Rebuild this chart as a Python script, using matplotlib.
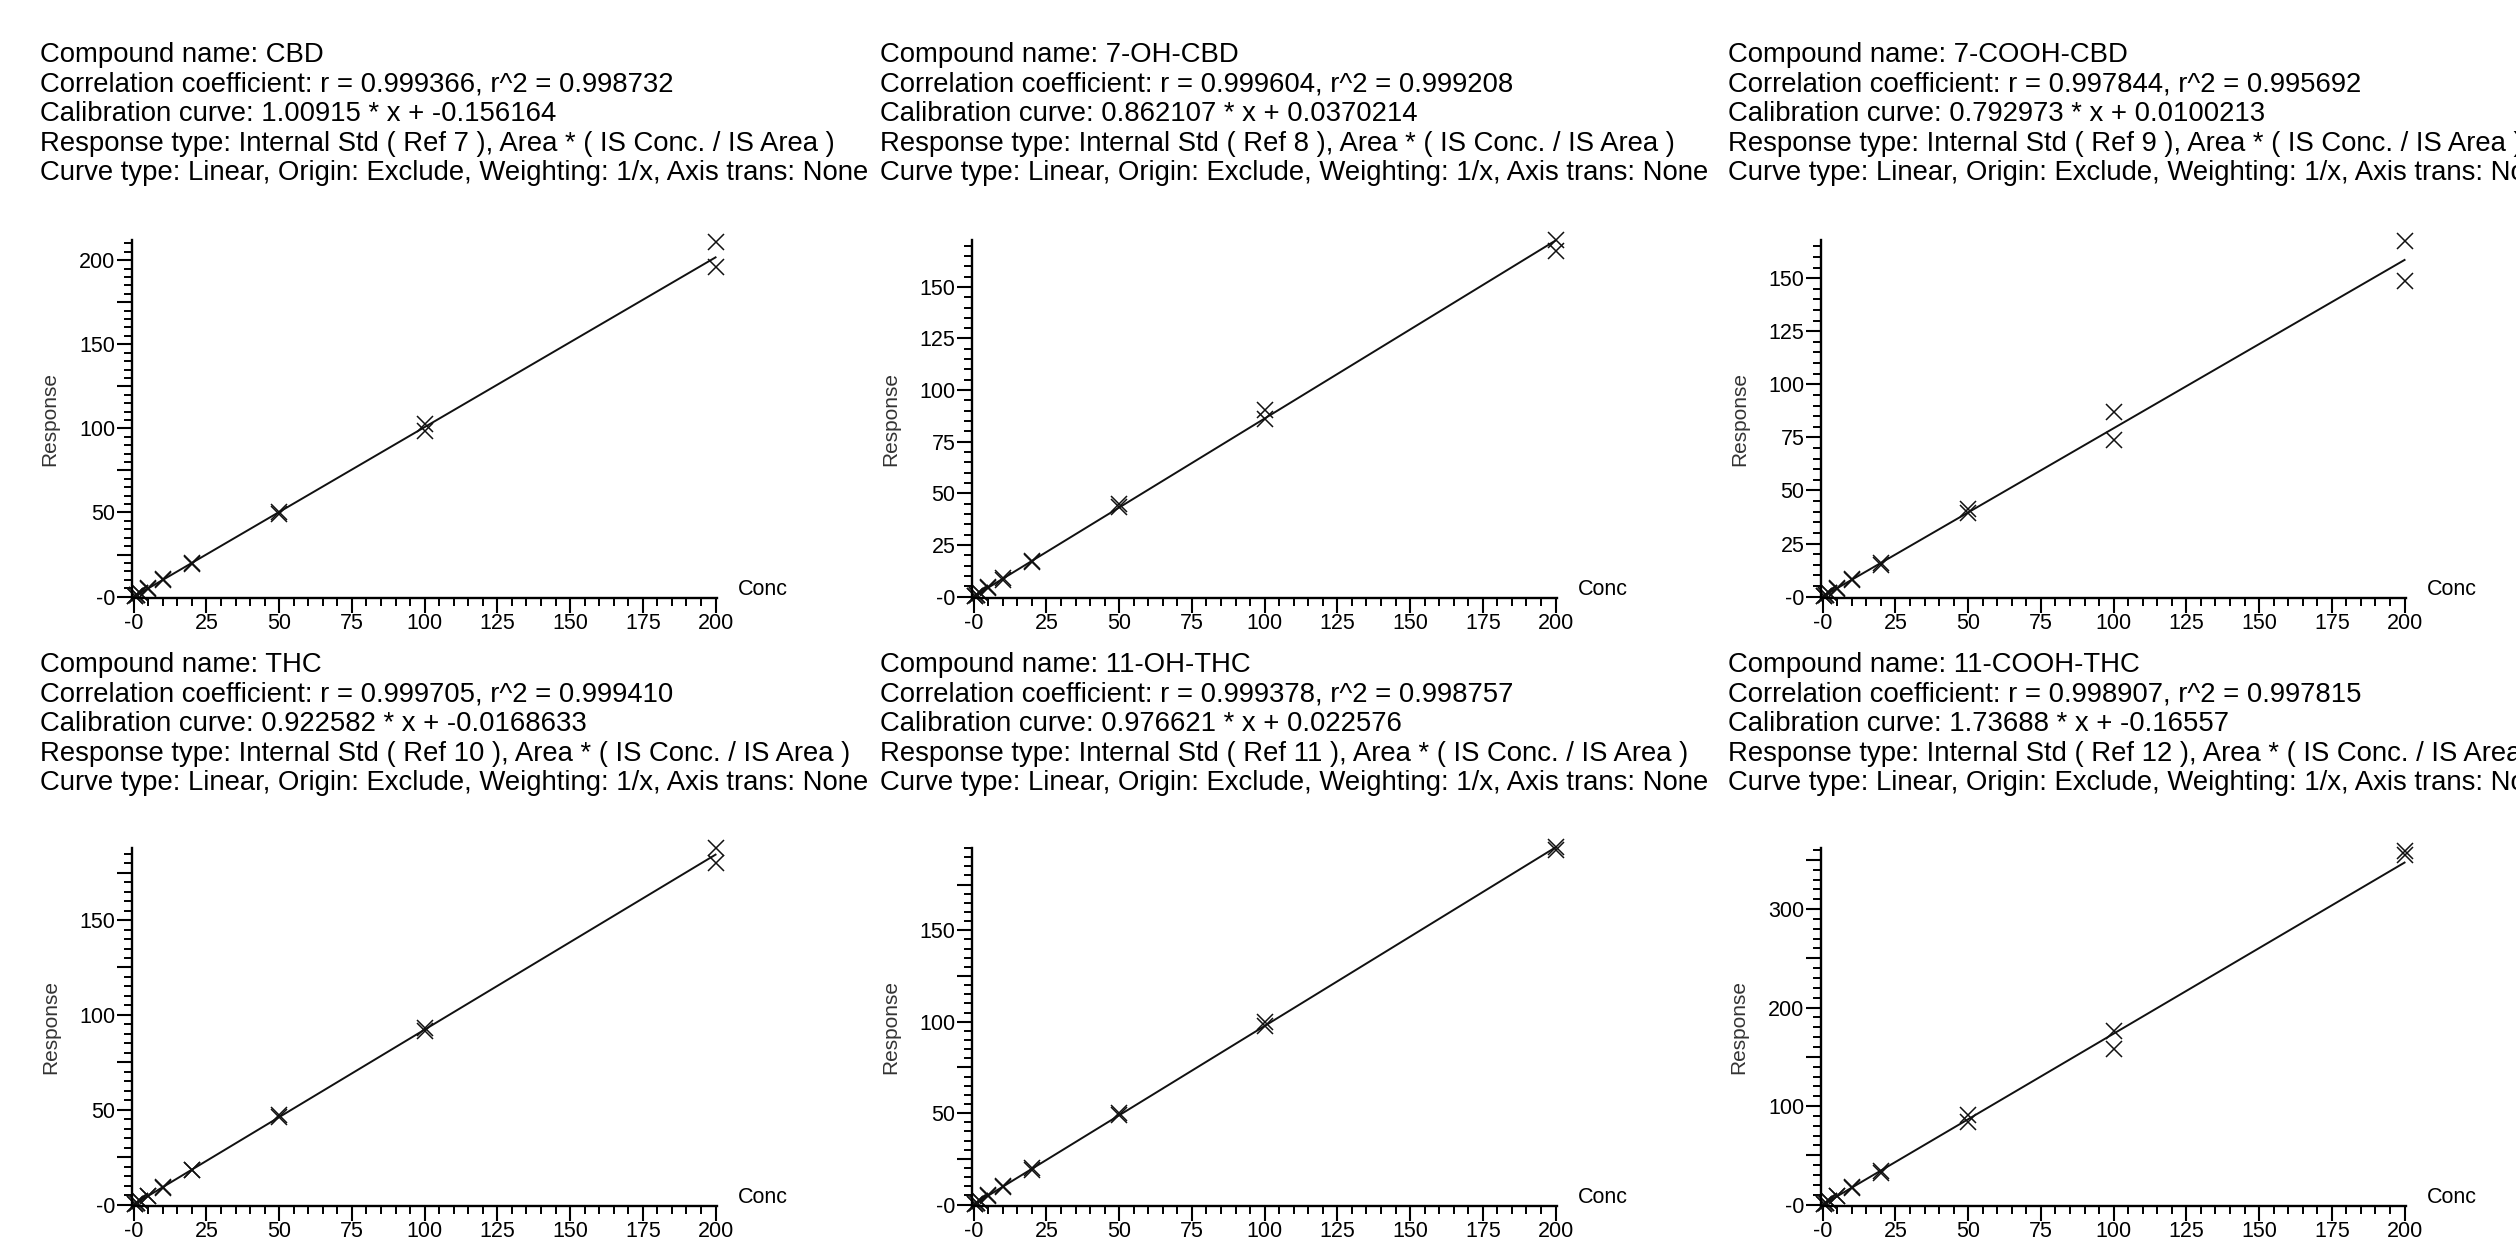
import numpy as np
import matplotlib.pyplot as plt
from matplotlib.ticker import MultipleLocator, FixedLocator, FuncFormatter

plt.rcParams['font.family'] = ['Liberation Sans', 'DejaVu Sans']

# calibration levels (two replicates per level)
conc = [0.5, 1, 2, 5, 10, 20, 50, 100, 200]

names = ['CBD', '7-OH-CBD', '7-COOH-CBD', 'THC', '11-OH-THC', '11-COOH-THC']
r_vals = ['0.999366', '0.999604', '0.997844', '0.999705', '0.999378', '0.998907']
r2_vals = ['0.998732', '0.999208', '0.995692', '0.999410', '0.998757', '0.997815']
slopes = ['1.00915', '0.862107', '0.792973', '0.922582', '0.976621', '1.73688']
intercepts = ['-0.156164', '0.0370214', '0.0100213', '-0.0168633', '0.022576', '-0.16557']
refs = [7, 8, 9, 10, 11, 12]

rep1 = [
    [0.5, 1.0, 2.0, 5.2, 10.3, 20.2, 50.5, 102.5, 211.0],
    [0.45, 0.9, 1.8, 4.4, 8.9, 17.3, 44.8, 90.5, 172.5],
    [0.4, 0.8, 1.6, 4.1, 8.2, 16.0, 41.2, 86.8, 167.5],
    [0.45, 0.9, 1.85, 4.7, 9.3, 18.3, 47.0, 93.0, 188.0],
    [0.5, 1.0, 2.0, 5.0, 9.9, 19.8, 50.2, 99.8, 195.5],
    [0.9, 1.7, 3.5, 8.8, 17.6, 34.5, 91.0, 176.0, 359.0],
]
rep2 = [
    [0.4, 0.9, 1.9, 4.8, 9.6, 19.6, 49.0, 98.5, 196.0],
    [0.4, 0.85, 1.7, 4.2, 8.2, 16.9, 43.2, 85.8, 167.5],
    [0.4, 0.75, 1.5, 3.8, 7.7, 15.0, 39.5, 74.0, 148.5],
    [0.4, 0.9, 1.8, 4.5, 9.0, 18.0, 46.0, 91.5, 180.0],
    [0.45, 0.95, 1.9, 4.8, 9.6, 18.8, 49.0, 97.5, 194.0],
    [0.8, 1.6, 3.3, 8.3, 16.8, 32.0, 84.0, 157.5, 355.0],
]

y_top = [212, 172.7, 168, 188, 195, 362]
y_label_step = [50, 25, 25, 50, 50, 100]
y_major_step = [25, 25, 25, 25, 25, 50]
y_minor_step = [5, 5, 5, 5, 5, 10]

W, H = 2516, 1246
fig = plt.figure(figsize=(W / 100, H / 100), dpi=100)

col_left = [132, 972, 1821]
col_text = [40, 880, 1728]
row_axis = [598, 1206]
row_text = [55, 665]
ax_w, ax_h = 585, 358
line_gap = 29.6

for i in range(6):
    row, col = divmod(i, 3)
    lines = [
        f'Compound name: {names[i]}',
        f'Correlation coefficient: r = {r_vals[i]}, r^2 = {r2_vals[i]}',
        f'Calibration curve: {slopes[i]} * x + {intercepts[i]}',
        f'Response type: Internal Std ( Ref {refs[i]} ), Area * ( IS Conc. / IS Area )',
        'Curve type: Linear, Origin: Exclude, Weighting: 1/x, Axis trans: None',
    ]
    for k, s in enumerate(lines):
        fig.text(col_text[col] / W, 1 - (row_text[row] + k * line_gap) / H, s,
                 fontsize=19.8, va='center', ha='left', color='black')

    ax = fig.add_axes([col_left[col] / W, 1 - row_axis[row] / H, ax_w / W, ax_h / H])
    x = conc + conc
    y = rep1[i] + rep2[i]
    a, b = float(slopes[i]), float(intercepts[i])
    xl = np.array([0, 200])
    ax.plot(xl, a * xl + b, color='#111111', lw=1.4, clip_on=False)
    ax.plot(x, y, 'x', color='#111111', ms=11, mew=1.1, clip_on=False)

    ymin = -0.004 * y_top[i]
    ax.set_xlim(-0.6, 200.5)
    ax.set_ylim(ymin, y_top[i])
    for sp in ['top', 'right']:
        ax.spines[sp].set_visible(False)
    for sp in ['left', 'bottom']:
        ax.spines[sp].set_linewidth(1.7)

    ax.xaxis.set_major_locator(MultipleLocator(25))
    ax.xaxis.set_minor_locator(MultipleLocator(5))
    ax.xaxis.set_major_formatter(FuncFormatter(lambda v, p: '-0' if v == 0 else f'{v:.0f}'))

    ymaj = np.arange(0, y_top[i], y_major_step[i])
    ax.yaxis.set_major_locator(FixedLocator(ymaj))
    ax.yaxis.set_minor_locator(MultipleLocator(y_minor_step[i]))
    step = y_label_step[i]
    ax.yaxis.set_major_formatter(FuncFormatter(
        lambda v, p, s=step: '-0' if v == 0 else (f'{v:.0f}' if v % s == 0 else '')))

    ax.tick_params(axis='x', which='major', length=11, width=1.5, labelsize=15.5, pad=0)
    ax.tick_params(axis='x', which='minor', length=6, width=1.4)
    ax.tick_params(axis='y', which='major', length=11, width=1.5, labelsize=15.5, pad=1)
    ax.tick_params(axis='y', which='minor', length=6, width=1.4)

    ax.set_ylabel('Response', fontsize=15, color='#333333', labelpad=14)
    ax.text(1.035, 0.025, 'Conc', transform=ax.transAxes, fontsize=15.5,
            ha='left', va='center')

fig.savefig('out.png', dpi=100)
